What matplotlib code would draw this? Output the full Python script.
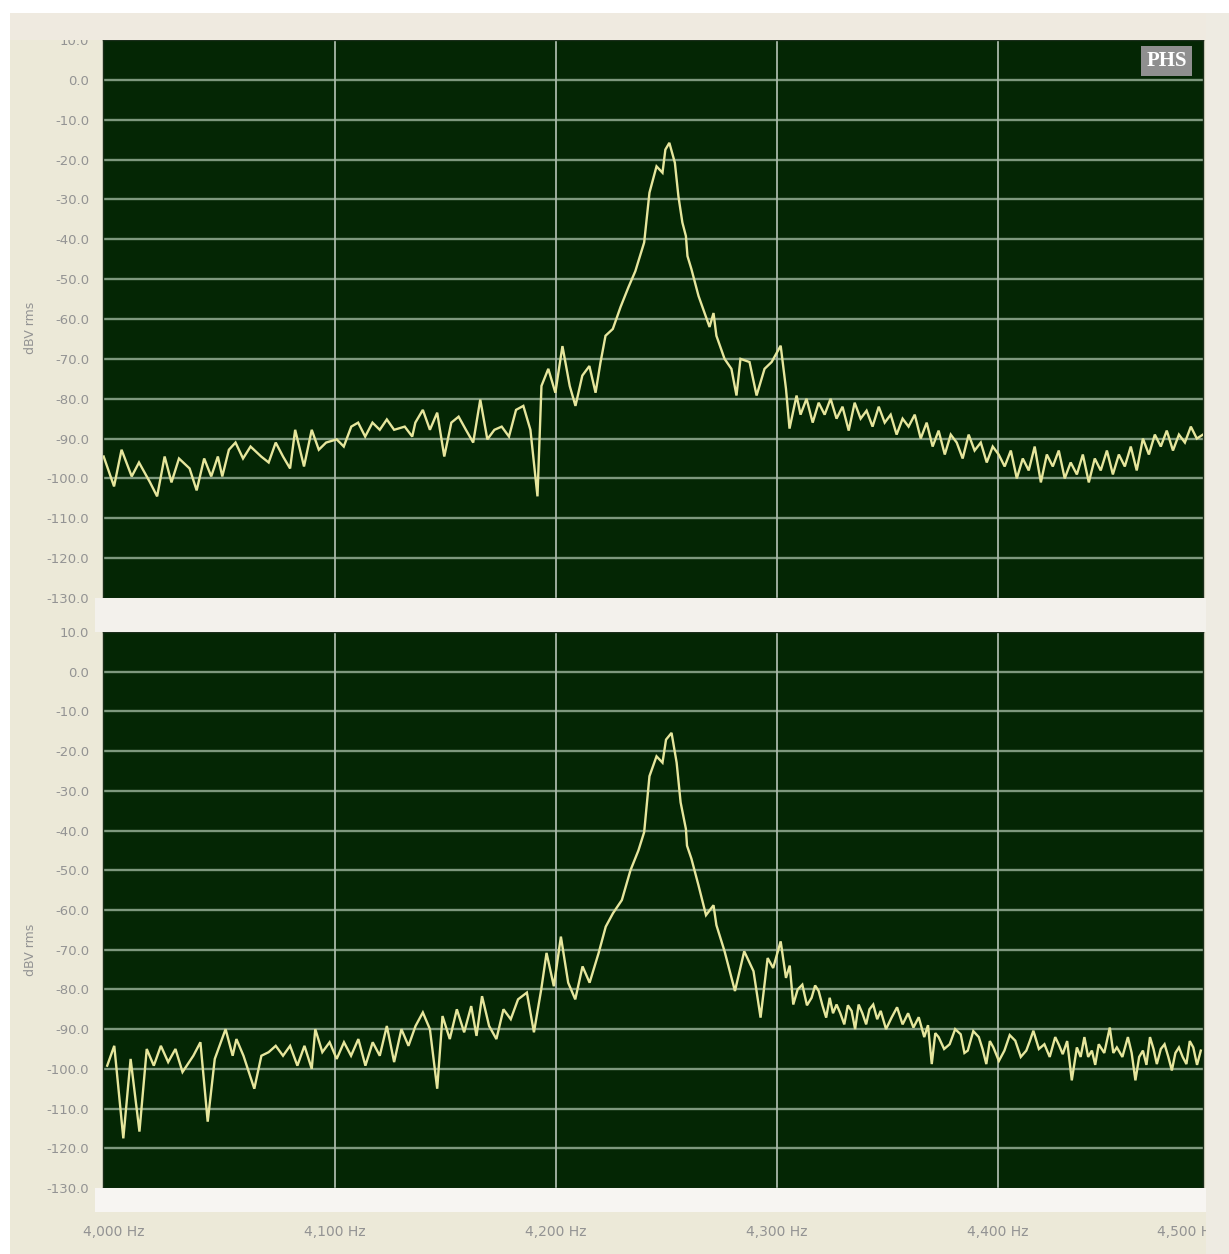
import numpy as np
import matplotlib
matplotlib.use("Agg")
import matplotlib.pyplot as plt
from matplotlib.patches import Rectangle
import matplotlib.transforms as mtransforms

# ---------------- data ----------------
left_freq = [3995.3, 4000.0, 4003.4, 4008.0, 4011.3, 4016.3, 4019.5, 4022.9, 4026.0, 4029.4,
             4034.2, 4037.4, 4040.8, 4044.0, 4047.0, 4049.0, 4052.0, 4055.0, 4058.4, 4061.8,
             4066.6, 4070.0, 4073.2, 4076.5, 4079.7, 4082.0, 4086.0, 4089.5, 4092.7, 4096.0,
             4100.8, 4104.0, 4107.4, 4110.5, 4113.7, 4117.0, 4120.3, 4123.5, 4126.8, 4131.6,
             4135.0, 4136.4, 4139.8, 4143.0, 4146.3, 4149.5, 4152.7, 4156.0, 4159.3, 4162.6,
             4165.8, 4169.0, 4172.2, 4175.5, 4178.8, 4182.0, 4185.3, 4188.5, 4191.7, 4193.5,
             4196.6, 4199.8, 4203.0, 4206.3, 4208.9, 4212.0, 4215.2, 4218.0, 4220.2, 4222.5,
             4225.8, 4229.3, 4232.9, 4236.0, 4240.0, 4242.4, 4245.6, 4248.3, 4249.6, 4251.4,
             4253.9, 4255.5, 4257.3, 4258.9, 4259.6, 4261.4, 4264.6, 4267.8, 4269.6, 4271.4,
             4272.7, 4276.4, 4279.5, 4281.8, 4283.6, 4287.7, 4290.9, 4294.5, 4297.7, 4301.8,
             4304.2, 4305.8, 4309.0, 4310.8, 4313.5, 4316.3, 4319.0, 4321.7, 4324.4, 4327.1,
             4329.8, 4332.6, 4335.3, 4338.0, 4340.7, 4343.4, 4346.2, 4348.9, 4351.6, 4354.3,
             4357.0, 4359.7, 4362.5, 4365.2, 4367.9, 4370.6, 4373.3, 4376.1, 4378.8, 4381.5,
             4384.2, 4386.9, 4389.6, 4392.4, 4395.1, 4397.8, 4400.5, 4403.2, 4406.0, 4408.7,
             4411.4, 4414.1, 4416.8, 4419.6, 4422.3, 4425.0, 4427.7, 4430.4, 4433.1, 4435.9,
             4438.6, 4441.3, 4444.0, 4446.7, 4449.5, 4452.2, 4454.9, 4457.6, 4460.3, 4463.0,
             4465.8, 4468.5, 4471.2, 4473.9, 4476.6, 4479.4, 4482.1, 4484.8, 4487.5, 4490.2,
             4493.0]
left_level = [-94.5, -102, -92.8, -99.5, -96, -101, -104.5, -94.5, -101, -95,
              -97.5, -103, -95, -99.5, -94.5, -99.5, -92.8, -91, -95, -92,
              -94.5, -96, -91, -94.5, -97.5, -87.8, -97, -87.8, -92.8, -91,
              -90.2, -92, -87, -86, -89.5, -86, -87.8, -85.2, -87.8, -87,
              -89.5, -86, -82.8, -87.8, -83.5, -94.5, -86, -84.5, -87.8, -91,
              -80.2, -90.2, -87.8, -87, -89.5, -82.8, -81.8, -87.8, -104.5, -76.8,
              -72.5, -78.5, -66.8, -76.8, -81.8, -74.2, -71.8, -78.5, -71, -64.2,
              -62.5, -57, -52, -48, -40.8, -28.3, -21.7, -23.3, -17.5, -15.8,
              -20.8, -29.2, -35.8, -39.2, -44.2, -47.5, -54.2, -59.2, -62, -58.5,
              -64.2, -70, -72.5, -79.2, -70, -70.8, -79.2, -72.5, -70.8, -66.7,
              -77.5, -87.5, -79.2, -84, -80, -86, -81, -84, -80, -85,
              -82, -88, -81, -85, -83, -87, -82, -86, -84, -89,
              -85, -87, -84, -90, -86, -92, -88, -94, -89, -91,
              -95, -89, -93, -91, -96, -92, -94, -97, -93, -100,
              -95, -98, -92, -101, -94, -97, -93, -100, -96, -99,
              -94, -101, -95, -98, -93, -99, -94, -97, -92, -98,
              -90, -94, -89, -92, -88, -93, -89, -91, -87, -90,
              -89]

right_freq = [3996.9, 4000.1, 4004.2, 4007.5, 4011.5, 4014.8, 4018.0, 4021.2, 4024.5, 4027.8,
              4031.0, 4035.9, 4039.1, 4042.4, 4045.6, 4050.5, 4053.7, 4055.4, 4058.6, 4063.5,
              4066.7, 4070.0, 4073.2, 4076.5, 4079.7, 4083.0, 4086.2, 4089.5, 4091.1, 4094.3,
              4097.6, 4100.8, 4104.1, 4107.3, 4110.6, 4113.8, 4117.1, 4120.3, 4123.5, 4126.8,
              4130.1, 4133.3, 4136.5, 4139.8, 4143.0, 4146.3, 4148.7, 4152.0, 4155.2, 4158.5,
              4161.7, 4164.1, 4166.6, 4169.8, 4173.1, 4176.3, 4179.6, 4182.9, 4186.9, 4190.1,
              4193.4, 4195.8, 4199.1, 4202.3, 4205.6, 4208.8, 4212.1, 4215.3, 4219.4, 4222.6,
              4225.9, 4229.9, 4233.8, 4237.4, 4240.0, 4242.4, 4245.6, 4248.3, 4249.9, 4252.4,
              4254.7, 4256.5, 4258.9, 4259.4, 4261.4, 4264.6, 4268.0, 4271.4, 4272.7, 4276.4,
              4281.1, 4285.3, 4289.5, 4292.7, 4295.9, 4298.4, 4301.8, 4304.2, 4305.9, 4307.5,
              4309.5, 4311.6, 4313.7, 4315.8, 4317.4, 4319.0, 4320.7, 4322.4, 4324.0, 4325.5,
              4327.1, 4328.8, 4330.6, 4332.2, 4333.9, 4335.5, 4337.1, 4338.8, 4340.5, 4342.0,
              4343.7, 4345.5, 4347.1, 4349.5, 4352.0, 4354.5, 4357.0, 4359.5, 4361.9, 4364.3,
              4366.8, 4368.5, 4370.2, 4371.8, 4373.3, 4375.8, 4378.3, 4380.8, 4383.3, 4385.0,
              4386.5, 4389.0, 4391.5, 4393.2, 4394.9, 4396.5, 4398.1, 4400.6, 4403.1, 4405.5,
              4408.0, 4410.5, 4413.0, 4414.6, 4416.2, 4418.7, 4421.2, 4423.6, 4426.1, 4427.8,
              4429.5, 4431.5, 4433.6, 4435.9, 4437.6, 4439.3, 4441.0, 4442.7, 4444.2, 4445.8,
              4448.3, 4450.8, 4452.4, 4454.0, 4456.5, 4459.0, 4460.7, 4462.4, 4464.1, 4465.8,
              4467.4, 4469.0, 4470.6, 4472.1, 4473.9, 4475.6, 4477.3, 4478.9, 4480.5, 4482.1,
              4483.8, 4485.5, 4487.0, 4488.6, 4490.3, 4492.0]
right_level = [-99.2, -94.2, -117.5, -97.5, -115.8, -95, -99.2, -94.2, -98.3, -95,
               -100.8, -96.7, -93.3, -113.3, -97.5, -90, -96.7, -92.5, -96.7, -105,
               -96.7, -95.8, -94.2, -96.7, -94.2, -99.2, -94.2, -100, -90, -95.8,
               -93.3, -97.5, -93.3, -96.7, -92.5, -99.2, -93.3, -96.7, -89.2, -98.3,
               -90, -94.2, -89.2, -85.8, -90, -105, -86.7, -92.5, -85, -90.8,
               -84.2, -91.7, -81.7, -89.2, -92.5, -85, -87.5, -82.5, -80.8, -90.8,
               -80, -70.8, -79.2, -66.7, -78.3, -82.5, -74.2, -78.3, -70.8, -64.2,
               -60.8, -57.5, -50, -45, -40.4, -26.3, -21.3, -22.9, -17.1, -15.4,
               -22.9, -32.9, -39.6, -43.8, -47.1, -53.8, -61.3, -58.8, -63.8, -70.4,
               -80.4, -70.4, -75.4, -87.1, -72.1, -74.6, -67.9, -77.1, -74, -83.8,
               -80, -78.8, -84, -82.1, -79, -80.4, -84, -87.1, -82.1, -86,
               -83.8, -86, -88.8, -84, -85.4, -90, -83.8, -86, -88.8, -85,
               -83.8, -87.5, -85.4, -90, -87.1, -84.5, -88.8, -86, -89.6, -87,
               -92, -89, -98.8, -91, -92, -95, -93.8, -90, -91.3, -96,
               -95.4, -90.5, -92, -95, -98.8, -93, -94.6, -98, -95.4, -91.5,
               -92.9, -97, -95.4, -93, -90.4, -95, -93.8, -97, -92, -94,
               -96.3, -93, -102.9, -94.6, -97, -92, -97, -95.4, -99, -93.8,
               -96, -89.6, -96, -94.6, -97, -92, -96, -102.9, -97, -95.4,
               -99, -92, -95, -98.8, -95, -93.8, -97, -100.4, -96, -94.6,
               -97, -98.8, -93, -94.6, -99, -95.4]

y_ticks = list(range(10, -131, -10))
y_tick_labels = [f"{v:.1f}" for v in y_ticks]
x_grid = [4100, 4200, 4300, 4400]
x_label_freqs = [4000, 4100, 4200, 4300, 4400, 4486]
x_labels = ["4,000 Hz", "4,100 Hz", "4,200 Hz", "4,300 Hz", "4,400 Hz", "4,500 Hz"]
panel_titles = ["Left", "Right"]

# ---------------- styling ----------------
W, H = 1229, 1254
BG = "#ECE9D8"
PLOT_BG = "#042604"
HGRID = "#7e987e"
VGRID = "#a9b8a9"
TRACE = "#e6e69c"
TXT = "#939393"

fig = plt.figure(figsize=(W / 100, H / 100), dpi=100, facecolor=BG)


def frect(x0, y0, x1, y1, color, z=0):
    """rectangle in figure pixel coords (top-left origin)"""
    r = Rectangle((x0 / W, 1 - y1 / H), (x1 - x0) / W, (y1 - y0) / H,
                  transform=fig.transFigure, facecolor=color, edgecolor="none", zorder=z)
    fig.patches.append(r)


# white outer frame strips
frect(0, 0, W, 13, "#ffffff")
frect(0, 0, 10, H, "#ffffff")
# light title band on top
frect(10, 13, 1210, 40, "#EFEAE0")
# strip between the panels
frect(95, 598, 1210, 632, "#F3F1EC")
# scrollbar strip below lower panel
frect(95, 1188, 1210, 1212, "#F7F5F2")
# right side column
frect(1206, 13, W, 1254, "#EEEBE2")

axes_px = [(103, 40, 1203, 598), (103, 632, 1203, 1188)]
series = [(left_freq, left_level), (right_freq, right_level)]
axs = []
for i, ((x0, y0, x1, y1), (fx, lv)) in enumerate(zip(axes_px, series)):
    ax = fig.add_axes([x0 / W, 1 - y1 / H, (x1 - x0) / W, (y1 - y0) / H])
    ax.set_facecolor(PLOT_BG)
    ax.set_xlim(3995, 4493)
    ax.set_ylim(-130, 10)
    for v in y_ticks[1:-1]:
        ax.axhline(v, color=HGRID, lw=1.7, zorder=1)
    for f in x_grid:
        ax.axvline(f, color=VGRID, lw=1.3, zorder=1)
    ax.plot(fx, lv, color=TRACE, lw=1.7, zorder=3, solid_joinstyle="miter")
    ax.set_yticks(y_ticks)
    ax.set_yticklabels(y_tick_labels)
    ax.tick_params(axis="y", length=0, pad=10, labelsize=9.5, labelcolor=TXT)
    ax.set_xticks([])
    for s in ax.spines.values():
        s.set_color("#1b2d1b")
        s.set_linewidth(1.0)
    ax.set_title(panel_titles[i], fontsize=9, color=TXT, pad=8 if i == 0 else 7)
    axs.append(ax)

# y labels
fig.text(30 / W, 1 - 328 / H, "dBV rms", rotation=90, ha="center", va="center",
         fontsize=9, color=TXT)
fig.text(30 / W, 1 - 950 / H, "dBV rms", rotation=90, ha="center", va="center",
         fontsize=9, color=TXT)

# PHS badge
axs[0].text(0.967, 0.962, "PHS", transform=axs[0].transAxes, ha="center", va="center",
            fontsize=15, fontweight="bold", family="Liberation Serif", color="white",
            bbox=dict(boxstyle="square,pad=0.25", facecolor="#8f8f8f", edgecolor="none"),
            zorder=5)

# frequency labels below the scroll strip
trans = mtransforms.blended_transform_factory(axs[1].transData, axs[1].transAxes)
for f, lab in zip(x_label_freqs, x_labels):
    axs[1].text(f, -0.079, lab, transform=trans, ha="center", va="center",
                fontsize=10, color=TXT, clip_on=False)

fig.savefig("out.png", dpi=100, facecolor=BG)
